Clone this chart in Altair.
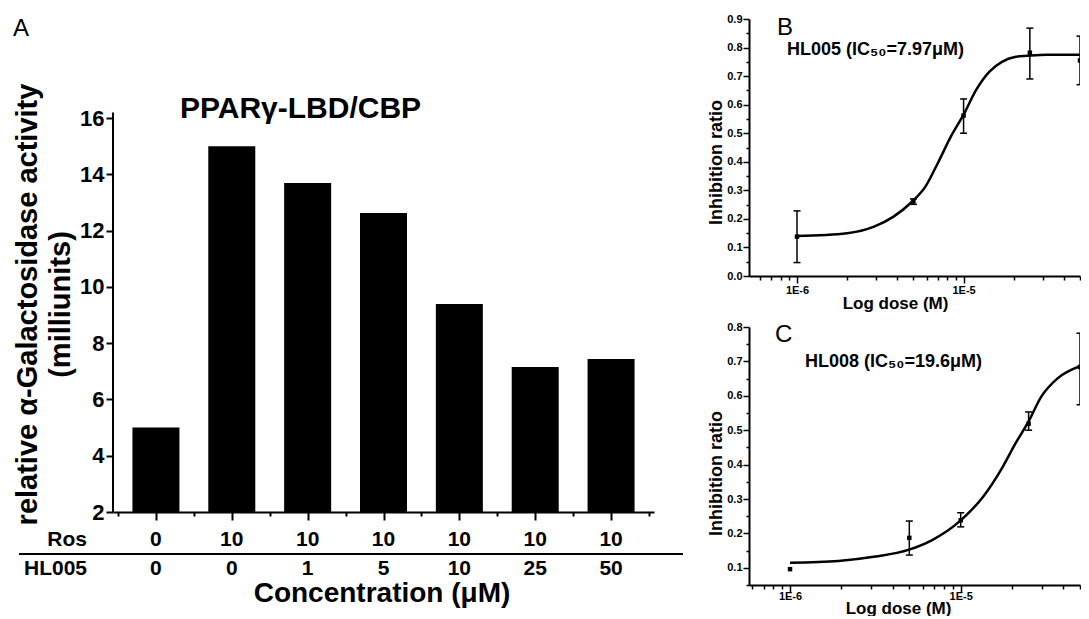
import altair as alt
import pandas as pd

FONT = "Liberation Sans"

# ---------------- Panel A data ----------------
a_ros = ["0", "10", "10", "10", "10", "10", "10"]
a_hl005 = ["0", "0", "1", "5", "10", "25", "50"]
a_activity = [5.0, 15.0, 13.69, 12.63, 9.39, 7.15, 7.44]
a_yticks = list(range(2, 17))
a_xticks = [-0.5, 0, 0.5, 1, 1.5, 2, 2.5, 3, 3.5, 4, 4.5, 5, 5.5, 6, 6.5]
a_title = "PPARγ-LBD/CBP"
a_ytitle = ["relative α-Galactosidase activity", "(milliunits)"]
a_xtitle = "Concentration (μM)"
a_row_names = ["Ros", "HL005"]
a_letter = "A"

# ---------------- Panel B data ----------------
b_dose = [1e-6, 5e-6, 1e-5, 2.5e-5, 5e-5]
b_mean = [0.138, 0.261, 0.562, 0.782, 0.755]
b_lo = [0.047, 0.251, 0.500, 0.690, 0.670]
b_hi = [0.228, 0.270, 0.620, 0.868, 0.840]
b_fit_dose = [1e-6, 2e-6, 2.9e-6, 3.8e-6, 4.9e-6, 5.9e-6, 7e-6, 8.4e-6, 1e-5,
              1.19e-5, 1.43e-5, 1.7e-5, 2.03e-5, 2.42e-5, 3.16e-5, 5e-5]
b_fit_val = [0.140, 0.150, 0.173, 0.208, 0.260, 0.313, 0.395, 0.489, 0.565,
             0.652, 0.716, 0.750, 0.767, 0.771, 0.775, 0.775]
b_label = "HL005 (IC₅₀=7.97μM)"
b_letter = "B"
b_yticks = [0.0, 0.05, 0.1, 0.15, 0.2, 0.25, 0.3, 0.35, 0.4, 0.45, 0.5,
            0.55, 0.6, 0.65, 0.7, 0.75, 0.8, 0.85, 0.9]

# ---------------- Panel C data ----------------
c_dose = [1e-6, 5e-6, 1e-5, 2.5e-5, 5e-5]
c_mean = [0.096, 0.187, 0.238, 0.519, 0.684]
c_lo = [None, 0.137, 0.219, 0.500, 0.574]
c_hi = [None, 0.236, 0.260, 0.553, 0.782]
c_fit_dose = [1e-6, 1.92e-6, 3.09e-6, 4.99e-6, 6.76e-6, 1e-5, 1.35e-5, 1.76e-5,
              2.09e-5, 2.49e-5, 2.96e-5, 3.68e-5, 5e-5]
c_fit_val = [0.115, 0.120, 0.132, 0.153, 0.180, 0.238, 0.306, 0.393,
             0.461, 0.524, 0.597, 0.650, 0.686]
c_label = "HL008 (IC₅₀=19.6μM)"
c_letter = "C"
c_yticks = [0.05, 0.1, 0.15, 0.2, 0.25, 0.3, 0.35, 0.4, 0.45, 0.5, 0.55,
            0.6, 0.65, 0.7, 0.75, 0.8]

log_ticks = [5e-7, 6e-7, 7e-7, 8e-7, 9e-7,
             1e-6, 2e-6, 3e-6, 4e-6, 5e-6, 6e-6, 7e-6, 8e-6, 9e-6,
             1e-5, 2e-5, 3e-5, 4e-5, 5e-5]
dose_xtitle = "Log dose (M)"
dose_ytitle = "Inhibition ratio"


def label(text, x, y, size, weight="bold", align="left"):
    return alt.Chart(pd.DataFrame({"t": [text]})).mark_text(
        font=FONT, fontSize=size, fontWeight=weight, align=align,
        baseline="middle", color="black"
    ).encode(x=alt.value(x), y=alt.value(y), text="t:N")


# ================= Panel A =================
W_A, H_A = 541, 493
A_TOP = 19.52
dfA = pd.DataFrame({"idx": list(range(len(a_ros))), "ros": a_ros,
                    "hl": a_hl005, "val": a_activity})

xA = alt.X("idx:Q",
           scale=alt.Scale(domain=[-0.5, len(a_ros) - 0.5], nice=False, zero=False),
           axis=alt.Axis(values=a_xticks, labels=False, title=None, grid=False,
                         domainWidth=2, tickWidth=2,
                         tickSize={"condition": {"test": "datum.value % 1 != 0", "value": 4},
                                   "value": 8}))
yA = alt.Y("val:Q",
           scale=alt.Scale(domain=[2, A_TOP], nice=False, zero=False),
           axis=alt.Axis(values=a_yticks, domain=False, grid=False, title=a_ytitle,
                         labelExpr="datum.value % 2 == 0 ? datum.label : ''",
                         labelFontSize=22, labelPadding=2, tickWidth=2,
                         tickSize={"condition": {"test": "datum.value % 2 != 0", "value": 4},
                                   "value": 7},
                         titleFontSize=29, titleLineHeight=33, titleX=-86, titleY=285,
                         titleBaseline="middle"))

bars = alt.Chart(dfA).mark_bar(size=47, color="black").encode(
    x=xA, y=yA, y2=alt.datum(2))
yline = alt.Chart(pd.DataFrame({"v": [0]})).mark_rule(color="black", strokeWidth=2).encode(
    x=alt.value(0), y=alt.datum(2), y2=alt.datum(16.2))
ros_row = alt.Chart(dfA).mark_text(font=FONT, fontSize=21, fontWeight="bold",
                                   baseline="middle", color="black").encode(
    x=xA, y=alt.value(H_A + 28), text="ros:N")
hl_row = alt.Chart(dfA).mark_text(font=FONT, fontSize=21, fontWeight="bold",
                                  baseline="middle", color="black").encode(
    x=xA, y=alt.value(H_A + 57), text="hl:N")
sep = alt.Chart(pd.DataFrame({"v": [0]})).mark_rule(color="black", strokeWidth=2).encode(
    x=alt.value(-94), x2=alt.value(570), y=alt.value(H_A + 42))

panelA = alt.layer(
    bars, yline, ros_row, hl_row, sep,
    label(a_row_names[0], -26, H_A + 28, 21, align="right"),
    label(a_row_names[1], -26, H_A + 57, 21, align="right"),
    label(a_xtitle, 269, H_A + 82, 28, align="center"),
    label(a_title, 67, 90, 30),
    label(a_letter, -100, 9.5, 24, weight="normal"),
).properties(width=W_A, height=H_A)


# ================= Panels B / C =================
PANEL_W = 331


def dose_panel(dose, mean, lo, hi, fit_dose, fit_val, xdom, ydom, yticks, H,
               letter, letter_pos, text, text_pos, xtitle_pos, ytitle_pos, xlabel_pad):
    pts = pd.DataFrame({"dose": dose, "val": mean, "lo": lo, "hi": hi})
    fit = pd.DataFrame({"dose": fit_dose, "val": fit_val})
    lg = "log(datum.value)/LN10"
    x = alt.X("dose:Q",
              scale=alt.Scale(type="log", domain=xdom, nice=False),
              axis=alt.Axis(values=log_ticks, grid=False,
                            labelExpr=f"abs({lg} - round({lg})) < 0.001 ? '1E' + round({lg}) : ''",
                            labelFontSize=11, labelPadding=xlabel_pad, domainWidth=2, tickWidth=1.5,
                            tickSize={"condition": {"test": f"abs({lg} - round({lg})) < 0.001",
                                                    "value": 7}, "value": 4},
                            title=dose_xtitle, titleFontSize=17,
                            titleX=xtitle_pos[0], titleY=xtitle_pos[1],
                            titleBaseline="middle"))
    ytest = "abs(datum.value*10 - round(datum.value*10)) < 0.01"
    yaxis = alt.Axis(values=yticks, grid=False,
                     labelExpr=f"{ytest} ? format(datum.value, '.1f') : ''",
                     labelFontSize=11, labelPadding=1, domainWidth=2, tickWidth=1.5,
                     tickSize={"condition": {"test": ytest, "value": 6}, "value": 3},
                     title=dose_ytitle, titleFontSize=18,
                     titleX=ytitle_pos[0], titleY=ytitle_pos[1], titleBaseline="middle")
    yscale = alt.Scale(domain=ydom, nice=False, zero=False)

    def y(field):
        return alt.Y(field, scale=yscale, axis=yaxis)

    line = alt.Chart(fit).mark_line(color="black", strokeWidth=2.5, clip=True,
                                    interpolate="monotone").encode(x=x, y=y("val:Q"))
    err = alt.Chart(pts).mark_rule(color="black", strokeWidth=1.5, clip=True).encode(
        x=x, y=y("lo:Q"), y2="hi:Q")
    cap_lo = alt.Chart(pts).mark_tick(color="black", orient="horizontal", size=7,
                                      thickness=1.5, opacity=1, clip=True).encode(x=x, y=y("lo:Q"))
    cap_hi = alt.Chart(pts).mark_tick(color="black", orient="horizontal", size=7,
                                      thickness=1.5, opacity=1, clip=True).encode(x=x, y=y("hi:Q"))
    points = alt.Chart(pts).mark_point(shape="square", filled=True, size=20, color="black",
                                       opacity=1, clip=True).encode(x=x, y=y("val:Q"))
    return alt.layer(
        line, err, cap_lo, cap_hi, points,
        label(letter, letter_pos[0], letter_pos[1], 24, weight="normal"),
        label(text, text_pos[0], text_pos[1], 18),
    ).properties(width=PANEL_W, height=H)


panelB = dose_panel(b_dose, b_mean, b_lo, b_hi, b_fit_dose, b_fit_val,
                    [5.15e-7, 5e-5], [0, 0.9], b_yticks, 257,
                    b_letter, (28, 8.5), b_label, (38, 31), (146, 27), (-33, 143), 1)
panelC = dose_panel(c_dose, c_mean, c_lo, c_hi, c_fit_dose, c_fit_val,
                    [5.75e-7, 5e-5], [0.05, 0.8], c_yticks, 258,
                    c_letter, (26, 7.5), c_label, (56, 35), (149, 23), (-33, 146), -2)

chart = alt.hconcat(
    panelA,
    alt.vconcat(panelB, panelC, spacing=51, bounds="flush"),
    spacing=95, bounds="flush",
).properties(
    padding={"left": 5, "top": 5, "right": 0, "bottom": 0}
).configure_view(stroke=None).configure_axis(
    labelFont=FONT, titleFont=FONT, labelFontWeight="bold", titleFontWeight="bold",
    labelColor="black", titleColor="black", domainColor="black", tickColor="black"
)

chart.save("out.html", embed_options={"renderer": "svg", "actions": False})
